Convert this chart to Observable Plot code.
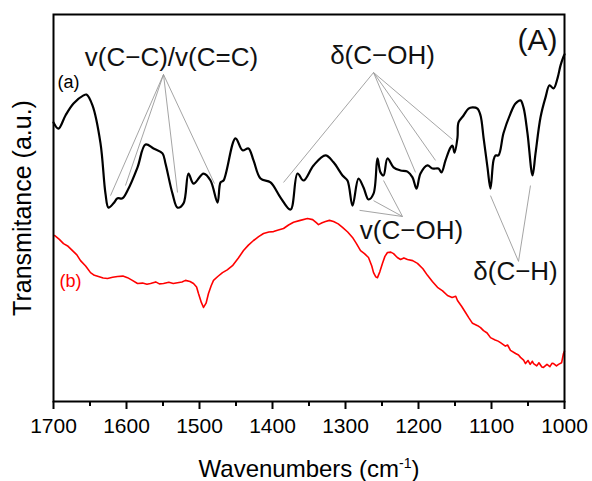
<!DOCTYPE html>
<html>
<head>
<meta charset="utf-8">
<script src="https://cdn.jsdelivr.net/npm/d3@7"></script>
<script src="https://cdn.jsdelivr.net/npm/@observablehq/plot@0.6"></script>
<style>
  body { margin: 0; background: white; }
</style>
</head>
<body>
<div id="chart"></div>
<script>
// ---- Spectrum (a): black ----
const waveA = [1700,1693.2,1683.6,1672.6,1658.9,1654.8,1646.6,1635.6,1628.8,1624.7,1617.8,1612.3,1605.5,1598.6,1584.9,1574.0,1563.0,1550.7,1546.6,1537.0,1530.1,1521.9,1515.1,1508.2,1494.5,1484.9,1475.3,1471.2,1467.1,1450.7,1441.1,1432.9,1426.0,1416.4,1402.7,1389.0,1375.3,1365.7,1357.5,1343.8,1327.4,1316.4,1304.1,1297.3,1290.4,1282.2,1275.3,1268.5,1261.6,1256.2,1252.1,1247.9,1242.5,1234.2,1224.6,1215.1,1208.2,1202.7,1197.3,1187.7,1180.8,1172.6,1168.5,1163.0,1156.2,1153.4,1150.7,1146.6,1145.2,1138.3,1131.5,1126.0,1119.2,1115.0,1110.9,1105.5,1101.4,1097.3,1094.5,1090.4,1083.6,1074.0,1067.1,1060.3,1056.2,1050.7,1043.8,1039.7,1032.9,1026.0,1020.5,1015.0,1009.6,1005.5,1001.4,1000];
const transA = [72.1,70.5,73.9,77.0,79.1,79.3,76.5,66.7,53.7,50.1,51.2,52.5,52.5,54.5,60.5,66.4,65.4,64.1,61.5,53.7,50.1,51.2,58.9,56.3,58.9,57.1,51.4,56.6,57.1,68.0,64.9,65.4,62.3,57.6,56.6,52.7,49.6,58.9,57.1,61.0,63.6,61.8,58.4,57.1,50.6,57.6,55.3,52.2,53.7,62.8,59.2,58.4,62.8,60.5,59.7,59.4,57.9,55.0,58.9,61.0,60.2,60.2,59.2,62.3,65.6,66.1,64.3,68.2,72.1,73.9,75.7,76.0,75.7,73.9,68.2,60.5,55.0,62.3,63.6,63.6,69.3,74.4,77.0,77.8,76.0,69.3,58.4,64.1,73.4,78.6,81.7,80.9,83.5,86.8,89.1,89.7];

// ---- Spectrum (b): red ----
const waveB = [1698.6,1692,1686.3,1680,1674.0,1668,1663.0,1656,1649.3,1644,1638.4,1632,1626.0,1619,1612.3,1605,1598.6,1592,1584.9,1578,1572,1567.1,1560,1555,1549.3,1542,1536,1530.1,1524,1519.2,1513,1508.2,1504,1501.4,1497.5,1494.5,1491,1487.7,1484,1480.8,1475,1468.5,1462,1454.8,1447,1439.7,1433,1426.0,1419,1412.3,1405,1398.6,1392,1384.9,1378,1371.2,1362,1352.1,1345,1340,1337.0,1332,1327.4,1322,1316.4,1310,1304.1,1297,1290.4,1285,1279.4,1274,1268.5,1264,1261.6,1258.5,1256.2,1253,1249.3,1246,1242.5,1238,1234.2,1229,1224.6,1220,1215.1,1208,1201.4,1194,1187.7,1181,1174.0,1167,1160.3,1154,1149,1146.6,1141,1135.6,1131,1126.0,1119,1115,1110.9,1106,1101.4,1095,1091,1087.7,1081,1078,1074.0,1067,1063,1060.3,1056,1053.4,1050,1047,1044,1042.4,1038,1035,1031,1028.8,1024,1020,1017,1015.0,1011,1008.2,1004,1001.4,1000];
const transB = [42.9,41.9,40.8,40.1,39.0,37.9,36.4,35.0,33.3,32.6,32.3,31.9,31.8,32.1,32.3,32.4,32.0,31.3,30.5,30.6,30.3,30.5,30.9,30.4,30.5,30.8,30.5,30.7,30.9,31.3,31.0,30.5,29.6,27.9,25.6,24.3,25.4,27.9,29.9,31.3,32.3,33.3,34.0,35.1,37.0,39.0,40.4,41.6,42.6,43.4,43.8,43.9,44.3,44.7,45.6,46.3,46.8,47.3,47.0,46.2,45.7,46.2,46.5,46.8,46.5,45.9,45.0,43.8,42.4,40.8,39.0,38.2,37.2,35.0,33.3,32.2,32.0,33.5,35.7,37.5,38.5,38.6,38.2,37.2,36.7,37.1,36.7,36.4,35.7,34.3,32.6,31.0,29.5,28.6,27.4,26.9,27.2,26.1,24.6,23.0,21.6,20.2,19.6,19.1,18.3,17.7,16.5,15.9,15.6,15.2,14.3,14.6,13.2,12.4,12.0,11.4,10.7,9.8,10.6,9.6,10.4,9.8,9.2,10.0,8.9,8.8,9.6,9.0,9.9,9.8,9.2,9.6,10.0,12.4,13.0];

// ---- Axis ticks ----
const majorTicks = [1700,1600,1500,1400,1300,1200,1100,1000];
const minorTicks = [1650,1550,1450,1350,1250,1150,1050];

// ---- Band assignment labels ----
const labelText = ["v(C\u2212C)/v(C=C)", "\u03b4(C\u2212OH)", "v(C\u2212OH)", "\u03b4(C\u2212H)"];
const labelW = [1538.4, 1249.3, 1209.6, 1067.1];
const labelT = [86.8, 87.1, 42.1, 31.5];

// ---- Leader lines: label apex -> band ----
const leaderFromW = [1549.3,1549.3,1549.3,1549.3, 1261.6,1261.6,1261.6,1261.6, 1221.9,1221.9,1221.9, 1063.0,1063.0];
const leaderFromT = [84.5,84.5,84.5,84.5, 85.0,85.0,85.0,85.0, 47.8,47.8,47.8, 36.2,36.2];
const leaderToW   = [1621.9,1601.4,1530.1,1479.5, 1384.9,1204.1,1176.7,1153.4, 1280.8,1261.6,1247.9, 1101.4,1046.6];
const leaderToT   = [53.2,55.8,54.0,56.3, 56.6,59.2,62.3,67.7, 49.4,51.9,57.1, 53.2,55.8];

// ---- Series tags ----
const tagText = ["(a)", "(b)"];
const tagW = [1679.5, 1676.7];
const tagT = [81.1, 29.5];
const tagColor = ["black", "#ff0000"];

const panelLabel = ["(A)"];
const yTitle = ["Transmitance (a.u.)"];
const xTitle = ["Wavenumbers (cm-1)"];

const seriesA = waveA.map((w, i) => ({w, t: transA[i]}));
const seriesB = waveB.map((w, i) => ({w, t: transB[i]}));
const labels = labelText.map((text, i) => ({text, w: labelW[i], t: labelT[i]}));
const leaders = leaderFromW.map((w1, i) => ({w1, t1: leaderFromT[i], w2: leaderToW[i], t2: leaderToT[i]}));
const tags = tagText.map((text, i) => ({text, w: tagW[i], t: tagT[i], c: tagColor[i]}));

const FONT = "'Liberation Sans', Arial, Helvetica, sans-serif";

const chart = Plot.plot({
  width: 592,
  height: 481,
  marginLeft: 53,
  marginRight: 28,
  marginTop: 14,
  marginBottom: 80,
  style: {fontFamily: FONT, background: "white", color: "black", overflow: "visible"},
  x: {domain: [1700, 1000], label: null},
  y: {domain: [0, 100], axis: null},
  marks: [
    Plot.link(leaders, {x1: "w1", y1: "t1", x2: "w2", y2: "t2", stroke: "#9a9a9a", strokeWidth: 0.9}),
    Plot.line(seriesB, {x: "w", y: "t", stroke: "#ff0000", strokeWidth: 1.6}),
    Plot.line(seriesA, {x: "w", y: "t", stroke: "black", strokeWidth: 2.2, curve: "catmull-rom"}),
    Plot.axisX(majorTicks, {tickSize: 8, tickPadding: 9, fontSize: 21, strokeWidth: 2, tickFormat: d => String(d), label: null, fill: "black"}),
    Plot.axisX(minorTicks, {tickSize: 5, strokeWidth: 2, tickFormat: () => "", label: null}),
    Plot.frame({stroke: "black", strokeWidth: 2}),
    Plot.text(labels, {x: "w", y: "t", text: "text", fontSize: 26, lineAnchor: "bottom", textAnchor: "middle", fill: "#111"}),
    Plot.text(tags, {x: "w", y: "t", text: "text", fontSize: 18, lineAnchor: "bottom", textAnchor: "middle", fill: "c"}),
    Plot.text(panelLabel, {frameAnchor: "top-right", text: d => d, fontSize: 30, dx: -7, dy: 14, lineAnchor: "top", textAnchor: "end", fill: "#111"}),
    Plot.text(yTitle, {frameAnchor: "left", text: d => d, fontSize: 25, rotate: -90, dx: -31, lineAnchor: "middle", textAnchor: "middle"}),
    Plot.text(xTitle, {frameAnchor: "bottom", text: d => d, fontSize: 24, dy: 75, lineAnchor: "bottom", textAnchor: "middle", className: "xtitle"})
  ]
});

// Superscript for cm^-1
chart.querySelectorAll("text").forEach(node => {
  if (node.textContent === "Wavenumbers (cm-1)") {
    node.textContent = "";
    const ns = "http://www.w3.org/2000/svg";
    const a = document.createElementNS(ns, "tspan"); a.textContent = "Wavenumbers (cm";
    const b = document.createElementNS(ns, "tspan"); b.textContent = "-1"; b.setAttribute("dy", "-9"); b.setAttribute("font-size", "14");
    const c = document.createElementNS(ns, "tspan"); c.textContent = ")"; c.setAttribute("dy", "9");
    node.append(a, b, c);
  }
});

document.getElementById("chart").appendChild(chart);
</script>
</body>
</html>
